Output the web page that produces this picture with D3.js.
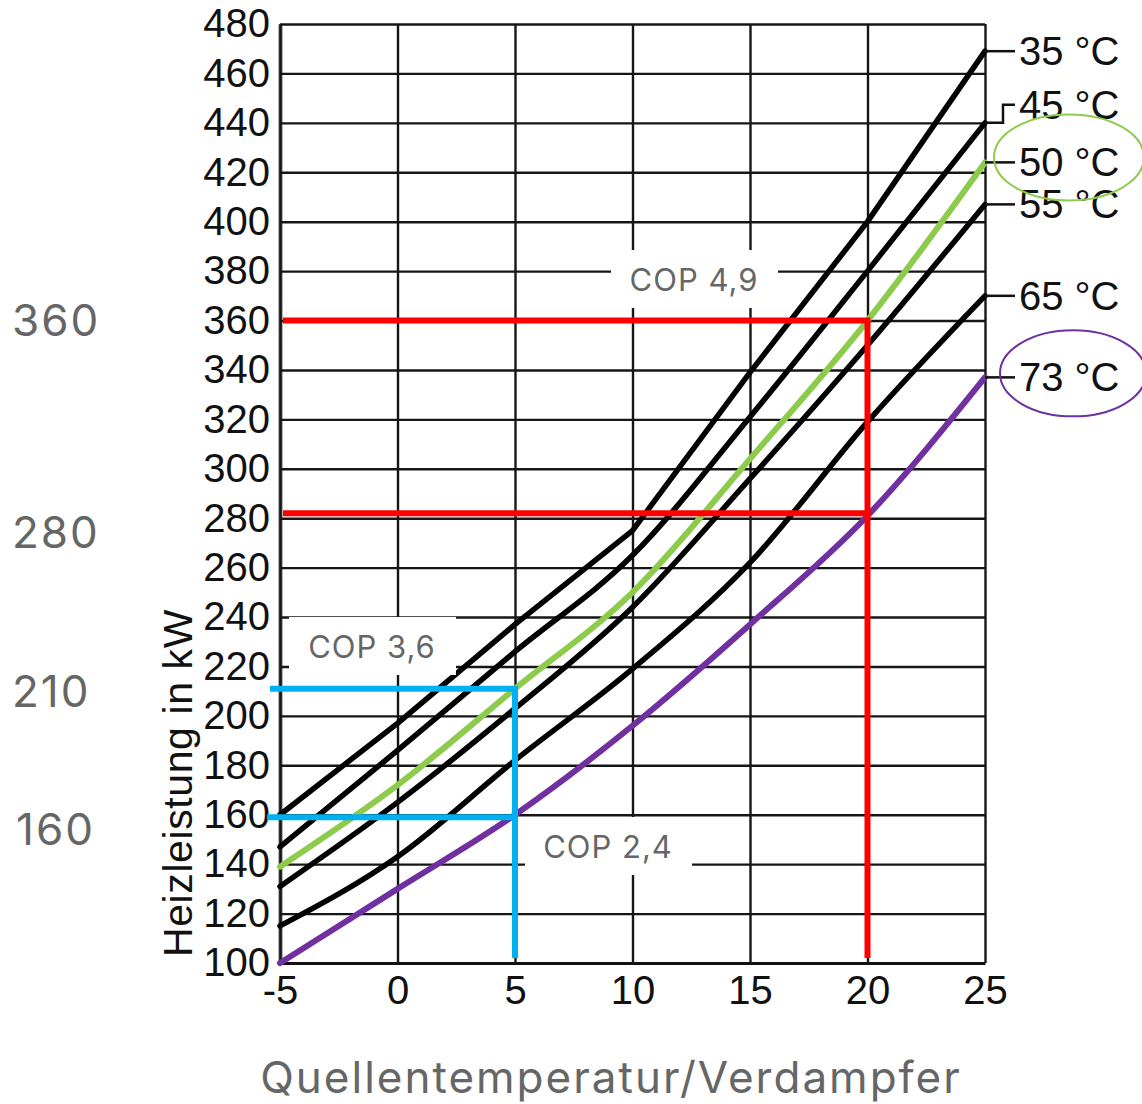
<!DOCTYPE html>
<html>
<head>
<meta charset="utf-8">
<script src="https://cdn.jsdelivr.net/npm/d3@7/dist/d3.min.js"></script>
<style>
    body { margin: 0; background: #fff; }
    svg { display: block; }
</style>
</head>
<body>
<div id="chart"></div>
<script>
// Heizleistung in kW je Vorlauftemperatur, über der Quellentemperatur in °C
const sourceTemps = [-5, 0, 5, 10, 15, 20, 25];
const flowTemps = ['35 °C', '45 °C', '50 °C', '55 °C', '65 °C', '73 °C'];
const power35 = [160, 197, 237, 275, 339, 400, 469];
const power45 = [147, 186, 226, 265, 321, 380, 440];
const power50 = [139, 172, 211, 250, 304, 360, 424];
const power55 = [131, 165, 203, 244, 296, 350, 407];
const power65 = [115, 143, 182, 219, 262, 319, 370];
const power73 = [100, 130, 160, 196, 237, 281, 337];

const xTicks = [-5, 0, 5, 10, 15, 20, 25];
const yTicks = [100, 120, 140, 160, 180, 200, 220, 240, 260, 280, 300, 320, 340, 360, 380, 400, 420, 440, 460, 480];

// readings drawn over the chart
const readTemps = [20, 5];
const readHigh = [360, 211];
const readLow = [282, 159];
const copLabels = ['COP 4,9', 'COP 3,6', 'COP 2,4'];
const sideValues = ['360', '280', '210', '160'];

const width = 1142, height = 1104;
const series = [power35, power45, power50, power55, power65, power73];

const svg = d3.select('#chart').append('svg')
    .attr('width', width)
    .attr('height', height);

const x = d3.scaleLinear().domain([-5, 25]).range([280, 985]);
const y = d3.scaleLinear().domain([100, 480]).range([963, 24]);

const chartFont = '"Liberation Sans", Arial, sans-serif';
const noteFont = 'Inter, Roboto, sans-serif';

// grid + y axis
const yAxis = svg.append('g')
    .attr('transform', 'translate(280,0)')
    .call(d3.axisLeft(y)
        .tickValues(yTicks)
        .tickSize(-(x(25) - x(-5)))
        .tickSizeOuter(0)
        .tickPadding(10)
        .tickFormat(function (d) { return String(d); }));
yAxis.selectAll('.tick line').attr('stroke', '#161616').attr('stroke-width', 2.4);
yAxis.select('.domain').attr('stroke', '#6a6a6a').attr('stroke-width', 4);
yAxis.selectAll('text')
    .style('font', '40px ' + chartFont)
    .attr('fill', '#111');

// grid + x axis
const xAxis = svg.append('g')
    .attr('transform', 'translate(0,963)')
    .call(d3.axisBottom(x)
        .tickValues(xTicks)
        .tickSize(-(y(100) - y(480)))
        .tickSizeOuter(0)
        .tickPadding(13)
        .tickFormat(function (d) { return String(d); }));
xAxis.selectAll('.tick line').attr('stroke', '#161616').attr('stroke-width', 2.4);
xAxis.select('.domain').attr('stroke', '#111').attr('stroke-width', 3);
xAxis.selectAll('text')
    .style('font', '40px ' + chartFont)
    .attr('fill', '#111');

// y title
svg.append('text')
    .attr('transform', 'translate(192,783) rotate(-90)')
    .attr('text-anchor', 'middle')
    .style('font', '41px ' + chartFont)
    .style('letter-spacing', '0.6px')
    .attr('fill', '#111')
    .text('Heizleistung in kW');

// curves
const sharpLine = d3.line()
    .x(function (d, i) { return x(sourceTemps[i]); })
    .y(function (d) { return y(d); });
const softLine = d3.line()
    .curve(d3.curveMonotoneX)
    .x(function (d, i) { return x(sourceTemps[i]); })
    .y(function (d) { return y(d); });

const curveColor = ['#000', '#000', '#8dcb4c', '#000', '#000', '#7030a0'];
const curveWidth = [5.5, 5.5, 6, 5.5, 5.5, 6];

// black ones first, marked ones on top
const order = [0, 1, 3, 4, 2, 5];
svg.append('g')
    .selectAll('path')
    .data(order)
    .enter()
    .append('path')
    .attr('d', function (k) { return k === 0 ? sharpLine(series[k]) : softLine(series[k]); })
    .attr('fill', 'none')
    .attr('stroke', function (k) { return curveColor[k]; })
    .attr('stroke-width', function (k) { return curveWidth[k]; })
    .attr('stroke-linejoin', 'round')
    .attr('stroke-linecap', 'round');

// labels at the right end
const labelShift = [0, -18, 0, 0, 0, 0];
const labels = svg.append('g')
    .selectAll('g')
    .data(flowTemps)
    .enter()
    .append('g');

labels.append('path')
    .attr('d', function (d, i) {
        const y0 = y(series[i][series[i].length - 1]);
        if (labelShift[i] === 0) return 'M' + x(25) + ',' + y0 + 'H1015';
        return 'M' + x(25) + ',' + y0 + 'H1003V' + (y0 + labelShift[i]) + 'H1015';
    })
    .attr('fill', 'none')
    .attr('stroke', '#111')
    .attr('stroke-width', 2.5);

labels.append('text')
    .attr('x', 1019)
    .attr('y', function (d, i) { return y(series[i][series[i].length - 1]) + labelShift[i]; })
    .attr('dy', '0.35em')
    .style('font', '40px ' + chartFont)
    .attr('fill', '#111')
    .text(function (d) { return d; });

// circles round 50 °C and 73 °C
svg.append('ellipse')
    .attr('cx', 1069)
    .attr('cy', y(power50[6]) - 5)
    .attr('rx', 75).attr('ry', 43)
    .attr('fill', 'none')
    .attr('stroke', '#8dcb4c')
    .attr('stroke-width', 2);
svg.append('ellipse')
    .attr('cx', 1073)
    .attr('cy', y(power73[6]) - 4)
    .attr('rx', 73).attr('ry', 43)
    .attr('fill', 'none')
    .attr('stroke', '#7030a0')
    .attr('stroke-width', 2);

// reading lines
const readColor = ['#ff0000', '#00b0f0'];
const leftStart = [283, 270];
const reads = svg.append('g');
readTemps.forEach(function (t, i) {
    reads.append('path')
        .attr('d', 'M' + x(t) + ',958V' + y(readHigh[i]))
        .attr('stroke', readColor[i]).attr('stroke-width', 6).attr('fill', 'none');
    reads.append('path')
        .attr('d', 'M' + leftStart[i] + ',' + y(readHigh[i]) + 'H' + (x(t) + 3))
        .attr('stroke', readColor[i]).attr('stroke-width', 6).attr('fill', 'none');
    reads.append('path')
        .attr('d', 'M' + (leftStart[i] - 3 * i) + ',' + y(readLow[i]) + 'H' + (x(t) + 3))
        .attr('stroke', readColor[i]).attr('stroke-width', 6).attr('fill', 'none');
});

// COP notes
const copBox = [[611, 250], [289, 617], [525, 817]];
const notes = svg.append('g')
    .selectAll('g')
    .data(copLabels)
    .enter()
    .append('g')
    .attr('transform', function (d, i) { return 'translate(' + copBox[i][0] + ',' + copBox[i][1] + ')'; });
notes.append('rect')
    .attr('width', 167)
    .attr('height', 58)
    .attr('fill', '#fff');
notes.append('text')
    .attr('x', 83)
    .attr('y', 30)
    .attr('dy', '0.36em')
    .attr('text-anchor', 'middle')
    .style('font', '31px ' + noteFont)
    .style('letter-spacing', '1px')
    .attr('fill', '#666')
    .text(function (d) { return d; });

// side values
const sideNudge = [0, 14, 0, 14];
svg.append('g')
    .selectAll('text')
    .data(sideValues)
    .enter()
    .append('text')
    .attr('x', function (d, i) { return i === 3 ? 16 : 12; })
    .attr('y', function (d, i) { return y(+d) + sideNudge[i]; })
    .attr('dy', '0.36em')
    .style('font', '44px ' + noteFont)
    .style('letter-spacing', '2px')
    .attr('fill', '#666')
    .text(function (d) { return d; });

// x title
svg.append('text')
    .attr('x', 611)
    .attr('y', 1077)
    .attr('dy', '0.36em')
    .attr('text-anchor', 'middle')
    .style('font', '44px ' + noteFont)
    .style('letter-spacing', '2px')
    .attr('fill', '#666')
    .text('Quellentemperatur/Verdampfer');
</script>
</body>
</html>
